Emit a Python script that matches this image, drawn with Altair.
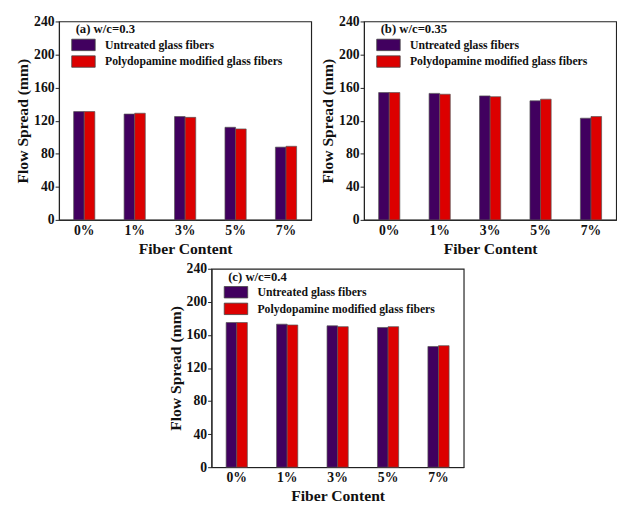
import altair as alt
import pandas as pd

categories = ["0%", "1%", "3%", "5%", "7%"]
series_names = ["Untreated glass fibers", "Polydopamine modified glass fibers"]

a_untreated = [131, 128, 125, 112, 88]
a_pda = [131, 129, 124, 110, 89]
b_untreated = [154, 153, 150, 144, 123]
b_pda = [154, 152, 149, 146, 125]
c_untreated = [175, 173, 171, 169, 146]
c_pda = [175, 172, 170, 170, 147]

panel_labels = ["(a) w/c=0.3", "(b) w/c=0.35", "(c) w/c=0.4"]
y_ticks = [0, 40, 80, 120, 160, 200, 240]

FONT = "Liberation Serif"
COLORS = ["#41005f", "#dc0000"]


def make_df(u, p):
    rows = []
    for i, c in enumerate(categories):
        rows.append({"cat": c, "series": series_names[0], "value": u[i]})
        rows.append({"cat": c, "series": series_names[1], "value": p[i]})
    return pd.DataFrame(rows)


def panel(u, p, label):
    df = make_df(u, p)
    return (
        alt.Chart(df)
        .mark_bar(stroke="#555555", strokeWidth=0.7)
        .encode(
            x=alt.X(
                "cat:N",
                sort=categories,
                scale=alt.Scale(paddingInner=0.58, paddingOuter=0.29),
                axis=alt.Axis(
                    title="Fiber Content",
                    labelAngle=0,
                    ticks=False,
                    labelPadding=4,
                    titlePadding=3,
                ),
            ),
            xOffset=alt.XOffset("series:N", sort=series_names),
            y=alt.Y(
                "value:Q",
                scale=alt.Scale(domain=[0, 240], nice=False),
                axis=alt.Axis(
                    title="Flow Spread (mm)",
                    values=y_ticks,
                    tickSize=4,
                    labelPadding=1,
                    titlePadding=3,
                ),
            ),
            fill=alt.Fill(
                "series:N",
                sort=series_names,
                scale=alt.Scale(domain=series_names, range=COLORS),
                legend=alt.Legend(
                    title=label,
                    orient="none",
                    legendX=17,
                    legendY=2,
                    symbolType="M-1.6,-0.78H1.6V0.78H-1.6Z",
                    symbolSize=225,
                    symbolStrokeColor="#444444",
                    symbolStrokeWidth=0.8,
                    labelOffset=14,
                    rowPadding=1,
                    titlePadding=1,
                ),
            ),
        )
        .properties(width=258, height=203)
    )


pa = panel(a_untreated, a_pda, panel_labels[0])
pb = panel(b_untreated, b_pda, panel_labels[1])
pc = panel(c_untreated, c_pda, panel_labels[2])

top = alt.hconcat(pa, pb, spacing=7).resolve_scale(fill="independent").resolve_legend(fill="independent")
chart = (
    alt.vconcat(top, pc, spacing=4, center=True)
    .resolve_scale(fill="independent")
    .resolve_legend(fill="independent")
    .properties(padding={"left": 6, "top": 0, "right": 0, "bottom": 0})
    .configure_view(stroke="#222222", strokeWidth=1.2)
    .configure_axis(
        labelFont=FONT,
        titleFont=FONT,
        labelFontWeight="bold",
        titleFontWeight="bold",
        labelFontSize=14,
        titleFontSize=16,
        labelColor="#111111",
        titleColor="#111111",
        domainColor="#222222",
        tickColor="#222222",
        grid=False,
    )
    .configure_legend(
        titleFont=FONT,
        labelFont=FONT,
        titleFontSize=13,
        labelFontSize=12,
        titleFontWeight="bold",
        labelFontWeight="bold",
        titleColor="#111111",
        labelColor="#111111",
        labelLimit=400,
    )
)

chart.save("out.html", embed_options={"renderer": "svg", "actions": False})
